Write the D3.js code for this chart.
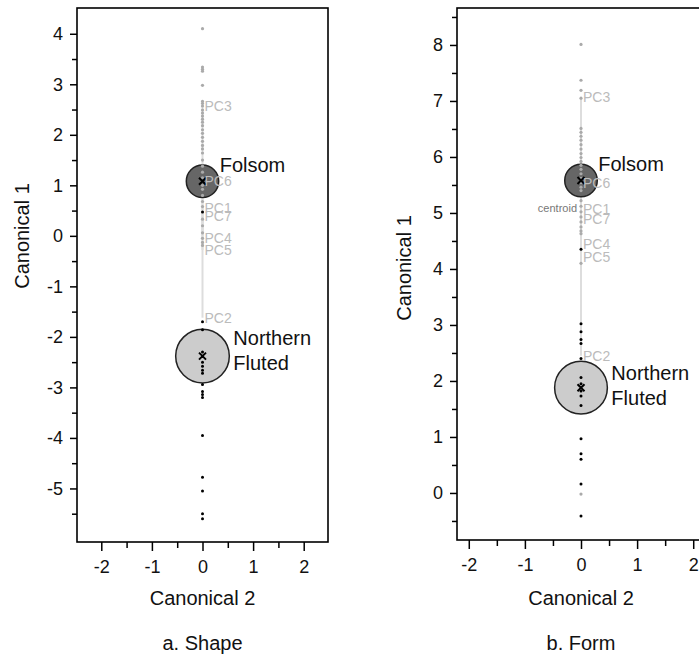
<!DOCTYPE html>
<html lang="en">
<head>
<meta charset="UTF-8">
<title>Canonical scores</title>
<style>
  body { margin: 0; background: #fff; font-family: "Liberation Sans", Arial, sans-serif; }
  svg { display: block; }
  .axis text { font-size: 18px; fill: #111; font-family: "Liberation Sans", Arial, sans-serif; }
  .axis path { display: none; }
  .axis line { stroke: #000; stroke-width: 1.5; }
</style>
</head>
<body>
<svg id="chart" width="699" height="658"></svg>
<script src="https://cdn.jsdelivr.net/npm/d3@7"></script>
<script>
// ---- data ----
// panel a: Shape
const shapeFolsom = [4.1, 3.34, 3.3, 3.26, 2.98, 2.66, 2.62, 2.57, 2.49, 2.43, 2.37, 2.31, 2.25, 2.18, 2.1, 2.03,
  1.95, 1.87, 1.79, 1.72, 1.64, 1.5, 1.38, 1.26, 1.15, 1.08, 1.0, 0.92, 0.8, 0.68, 0.58, 0.33, 0.2, 0.06, -0.05, -0.13, -0.19];
const shapeNorthern = [0.47, -1.7, -1.86, -2.3, -2.39, -2.5, -2.58, -2.66, -2.72, -2.94, -3.08, -3.14, -3.2,
  -3.95, -4.78, -5.05, -5.5, -5.6];
const shapePCs = ["PC3", "PC6", "PC1", "PC7", "PC4", "PC5", "PC2"];
const shapePCValues = [2.57, 1.08, 0.55, 0.39, -0.04, -0.28, -1.62];
const shapeGroups = ["Folsom", "Northern Fluted"];
const shapeCentroids = [1.08, -2.38];
const shapeRadii = [0.32, 0.53];
const shapeYTicks = [-5, -4, -3, -2, -1, 0, 1, 2, 3, 4];
const shapeYMinor = [-5.5, -4.5, -3.5, -2.5, -1.5, -0.5, 0.5, 1.5, 2.5, 3.5];

// panel b: Form
const formFolsom = [8.01, 7.37, 7.19, 7.05, 6.51, 6.44, 6.37, 6.3, 6.22, 6.14, 6.06, 5.99, 5.92, 5.85, 5.78,
  5.7, 5.62, 5.54, 5.46, 5.4, 5.22, 5.12, 5.02, 4.93, 4.84, 4.75, 4.68, 4.63, 4.1, -0.02];
const formNorthern = [4.35, 3.02, 2.88, 2.74, 2.67, 2.4, 2.06, 1.95, 1.82, 1.73, 1.56, 0.97, 0.7, 0.6, 0.16, -0.41];
const formPCs = ["PC3", "PC6", "PC1", "PC7", "PC4", "PC5", "PC2"];
const formPCValues = [7.07, 5.53, 5.08, 4.9, 4.45, 4.22, 2.45];
const formGroups = ["Folsom", "Northern Fluted"];
const formCentroids = [5.58, 1.88];
const formRadii = [0.29, 0.47];
const formCentroid = 5.08;
const formYTicks = [0, 1, 2, 3, 4, 5, 6, 7, 8];
const formYMinor = [-0.5, 0.5, 1.5, 2.5, 3.5, 4.5, 5.5, 6.5, 7.5, 8.5];

const xTicks = [-2, -1, 0, 1, 2];
const xMinor = [-1.5, -0.5, 0.5, 1.5];

const svg = d3.select("#chart");

function drawPanel(cfg) {
  const x = d3.scaleLinear().domain(cfg.xDomain).range([cfg.left, cfg.right]);
  const y = d3.scaleLinear().domain(cfg.yDomain).range([cfg.bottom, cfg.top]);
  const g = svg.append("g");

  // axes: majors with labels, minors without (plain hyphen for negatives)
  g.append("g").attr("class", "axis").attr("transform", `translate(${cfg.left},0)`)
    .call(d3.axisLeft(y).tickValues(cfg.yTicks).tickSize(7).tickPadding(7).tickFormat(d => String(d)));
  g.append("g").attr("class", "axis").attr("transform", `translate(${cfg.left},0)`)
    .call(d3.axisLeft(y).tickValues(cfg.yMinor).tickSize(5).tickFormat(""));
  g.append("g").attr("class", "axis").attr("transform", `translate(0,${cfg.bottom})`)
    .call(d3.axisBottom(x).tickValues(xTicks).tickSize(9).tickPadding(9).tickFormat(d => String(d)));
  g.append("g").attr("class", "axis").attr("transform", `translate(0,${cfg.bottom})`)
    .call(d3.axisBottom(x).tickValues(xMinor).tickSize(6).tickFormat(""));

  // frame
  g.append("rect")
    .attr("x", cfg.left).attr("y", cfg.top)
    .attr("width", cfg.right - cfg.left).attr("height", cfg.bottom - cfg.top)
    .attr("fill", "none").attr("stroke", "#000").attr("stroke-width", 1.6);

  // biplot rays from the centroid to each PC
  cfg.pcValues.forEach(v => {
    g.append("line")
      .attr("x1", x(0)).attr("x2", x(0))
      .attr("y1", y(cfg.centroid)).attr("y2", y(v))
      .attr("stroke", "#ddd").attr("stroke-width", 2);
  });

  // group circles
  const fills = ["#666", "#ccc"];
  cfg.groups.forEach((name, i) => {
    g.append("circle")
      .attr("cx", x(0)).attr("cy", y(cfg.centroids[i]))
      .attr("r", x(cfg.radii[i]) - x(0))
      .attr("fill", fills[i]).attr("stroke", "#222").attr("stroke-width", 1.5);
  });

  // observations
  g.append("g").selectAll("circle").data(cfg.folsom).join("circle")
    .attr("cx", x(0)).attr("cy", d => y(d)).attr("r", 1.6).attr("fill", "#aaa");
  g.append("g").selectAll("circle").data(cfg.northern).join("circle")
    .attr("cx", x(0)).attr("cy", d => y(d)).attr("r", 1.5).attr("fill", "#000");

  // centroid markers
  cfg.centroids.forEach(c => {
    const cx = x(0), cy = y(c), s = 3.5;
    g.append("path")
      .attr("d", `M${cx - s},${cy - s}L${cx + s},${cy + s}M${cx - s},${cy + s}L${cx + s},${cy - s}`)
      .attr("stroke", "#000").attr("stroke-width", 2);
  });

  // PC labels
  g.append("g").selectAll("text").data(cfg.pcs).join("text")
    .attr("x", x(0) + 2).attr("y", (d, i) => y(cfg.pcValues[i]))
    .attr("dy", "0.36em")
    .attr("font-size", 14).attr("fill", "#bbb")
    .text(d => d);

  // group labels
  const fcy = y(cfg.centroids[0]), fr = x(cfg.radii[0]) - x(0);
  g.append("text").attr("x", x(0) + fr + 1).attr("y", fcy - 9)
    .attr("font-size", 20).attr("fill", "#111").text("Folsom");
  const ncy = y(cfg.centroids[1]), nr = x(cfg.radii[1]) - x(0);
  const nf = g.append("text").attr("x", x(0) + nr + 4).attr("y", ncy + cfg.nfDy)
    .attr("font-size", 20).attr("fill", "#111");
  nf.append("tspan").attr("x", x(0) + nr + 4).text("Northern");
  nf.append("tspan").attr("x", x(0) + nr + 4).attr("dy", 25).text("Fluted");

  // axis titles
  g.append("text")
    .attr("transform", `translate(${cfg.yTitleX},${cfg.yTitleY}) rotate(-90)`)
    .attr("text-anchor", "middle").attr("font-size", 20).attr("fill", "#111")
    .text("Canonical 1");
  g.append("text").attr("x", x(0)).attr("y", 605)
    .attr("text-anchor", "middle").attr("font-size", 20).attr("fill", "#111")
    .text("Canonical 2");
  g.append("text").attr("x", x(0)).attr("y", 650)
    .attr("text-anchor", "middle").attr("font-size", 20).attr("fill", "#111")
    .text(cfg.title);

  return { x, y, g };
}

drawPanel({
  left: 77, right: 328, top: 8, bottom: 542,
  xDomain: [-2.48, 2.48], yDomain: [-6.06, 4.51],
  yTicks: shapeYTicks, yMinor: shapeYMinor,
  folsom: shapeFolsom, northern: shapeNorthern,
  pcs: shapePCs, pcValues: shapePCValues,
  groups: shapeGroups, centroids: shapeCentroids, radii: shapeRadii,
  centroid: 0, nfDy: -11, yTitleX: 29, yTitleY: 236, title: "a. Shape"
});

const b = drawPanel({
  left: 457, right: 705, top: 8, bottom: 540,
  xDomain: [-2.21, 2.21], yDomain: [-0.84, 8.66],
  yTicks: formYTicks, yMinor: formYMinor,
  folsom: formFolsom, northern: formNorthern,
  pcs: formPCs, pcValues: formPCValues,
  groups: formGroups, centroids: formCentroids, radii: formRadii,
  centroid: formCentroid, nfDy: -8, yTitleX: 411, yTitleY: 268, title: "b. Form"
});

b.g.append("text")
  .attr("x", b.x(0) - 4).attr("y", b.y(formCentroid))
  .attr("dy", "0.36em").attr("text-anchor", "end")
  .attr("font-size", 11).attr("fill", "#777")
  .text("centroid");
</script>
</body>
</html>
